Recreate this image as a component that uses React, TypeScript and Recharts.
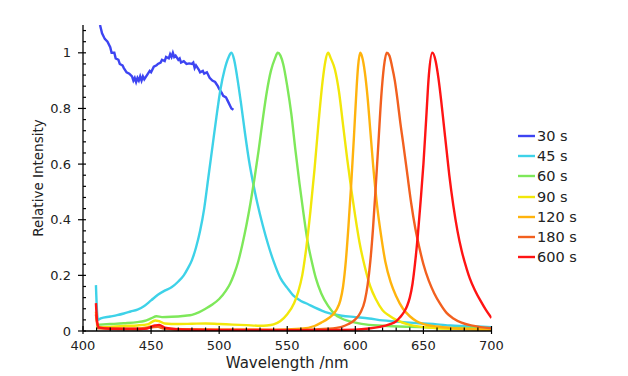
import { Label, Line, LineChart, XAxis, YAxis } from "recharts";

const FONT = "'DejaVu Sans', sans-serif";
const INK = "#222";

// [wavelength nm, relative intensity]
const S30: [number, number][] = [
  [412.5, 1.1], [414, 1.07], [416, 1.05], [418, 1.04], [420, 1.02], [421, 1.0],
  [423, 1.0], [424, 0.98], [426, 0.975], [427, 0.96], [429, 0.955], [430, 0.945],
  [432, 0.93], [434, 0.925], [436, 0.915], [437, 0.9], [438, 0.91], [439, 0.895],
  [440, 0.91], [441, 0.9], [442, 0.915], [443, 0.9], [444, 0.915], [445, 0.905],
  [447, 0.92], [449, 0.935], [450, 0.93], [452, 0.95], [454, 0.955], [455, 0.96],
  [457, 0.965], [458, 0.975], [460, 0.97], [461, 0.985], [463, 0.98], [464, 0.995],
  [465, 0.985], [466, 1.0], [467, 0.985], [468, 0.99], [470, 0.975], [471, 0.98],
  [472, 0.965], [474, 0.97], [476, 0.96], [478, 0.962], [480, 0.96], [481, 0.965],
  [482, 0.945], [483, 0.955], [485, 0.94], [486, 0.93], [488, 0.935], [489, 0.925],
  [491, 0.93], [493, 0.91], [495, 0.9], [497, 0.895], [499, 0.88], [500, 0.87],
  [502, 0.855], [503, 0.845], [505, 0.84], [506, 0.83], [507, 0.82], [508, 0.81],
  [509, 0.8], [510.5, 0.795],
];

const S45: [number, number][] = [
  [409.5, 0.165], [410.3, 0.07], [411, 0.04], [413, 0.045], [420, 0.052], [425, 0.057],
  [430, 0.063], [435, 0.07], [440, 0.077], [445, 0.09], [450, 0.11], [455, 0.13],
  [460, 0.145], [465, 0.157], [470, 0.178], [474, 0.2], [477, 0.225], [480, 0.255],
  [483, 0.3], [486, 0.36], [489, 0.44], [492, 0.55], [495, 0.66], [498, 0.77],
  [501, 0.87], [504, 0.94], [507, 0.985], [509, 1.0], [511, 0.975], [513, 0.92],
  [516, 0.82], [519, 0.71], [522, 0.61], [525, 0.53], [528, 0.46], [532, 0.38],
  [536, 0.31], [540, 0.25], [545, 0.19], [550, 0.155], [555, 0.125], [560, 0.108],
  [565, 0.097], [570, 0.085], [580, 0.065], [590, 0.055], [600, 0.05], [610, 0.045],
  [620, 0.038], [630, 0.034], [640, 0.03], [650, 0.027], [660, 0.024], [670, 0.02],
  [680, 0.018], [690, 0.016], [700, 0.014],
];

const S60: [number, number][] = [
  [409.5, 0.022], [420, 0.025], [430, 0.028], [440, 0.032], [445, 0.036], [450, 0.045],
  [454, 0.053], [458, 0.05], [465, 0.051], [475, 0.055], [480, 0.058], [485, 0.067],
  [490, 0.08], [495, 0.095], [500, 0.115], [505, 0.145], [508, 0.17], [511, 0.205],
  [514, 0.25], [517, 0.31], [520, 0.38], [523, 0.46], [526, 0.55], [529, 0.65],
  [532, 0.76], [535, 0.86], [538, 0.935], [541, 0.98], [543, 1.0], [545, 0.99],
  [547, 0.96], [550, 0.88], [553, 0.78], [556, 0.65], [559, 0.53], [562, 0.42],
  [565, 0.32], [568, 0.25], [571, 0.19], [575, 0.135], [580, 0.09], [585, 0.06],
  [590, 0.045], [600, 0.03], [610, 0.022], [620, 0.019], [640, 0.015], [660, 0.012],
  [680, 0.011], [700, 0.01],
];

const S90: [number, number][] = [
  [409.5, 0.012], [420, 0.015], [430, 0.018], [440, 0.02], [448, 0.025], [453, 0.038],
  [456, 0.035], [460, 0.027], [470, 0.025], [480, 0.026], [490, 0.027], [500, 0.025],
  [510, 0.023], [520, 0.021], [530, 0.019], [535, 0.02], [540, 0.024], [545, 0.036],
  [550, 0.06], [555, 0.1], [558, 0.14], [561, 0.2], [564, 0.3], [567, 0.43],
  [570, 0.58], [573, 0.75], [576, 0.9], [578, 0.97], [580, 1.0], [582, 0.98],
  [585, 0.94], [588, 0.86], [591, 0.74], [594, 0.62], [597, 0.51], [600, 0.41],
  [603, 0.32], [607, 0.23], [611, 0.16], [615, 0.115], [620, 0.075], [625, 0.055],
  [630, 0.04], [640, 0.022], [650, 0.014], [660, 0.01], [680, 0.007], [700, 0.005],
];

const S120: [number, number][] = [
  [409.5, 0.07], [411, 0.015], [420, 0.01], [440, 0.008], [453, 0.018], [458, 0.012],
  [470, 0.006], [500, 0.005], [540, 0.004], [560, 0.008], [570, 0.018], [575, 0.03],
  [580, 0.045], [586, 0.075], [589, 0.11], [591, 0.16], [593, 0.25], [595, 0.38],
  [597, 0.53], [599, 0.7], [601, 0.88], [602, 0.95], [603.5, 1.0], [605, 0.985],
  [607, 0.93], [609, 0.84], [611, 0.72], [613, 0.6], [616, 0.45], [619, 0.34],
  [622, 0.25], [626, 0.175], [630, 0.125], [635, 0.08], [640, 0.053], [645, 0.035],
  [650, 0.025], [660, 0.016], [670, 0.011], [680, 0.008], [700, 0.005],
];

const S180: [number, number][] = [
  [409.5, 0.06], [411, 0.01], [440, 0.006], [455, 0.015], [460, 0.008], [500, 0.004],
  [560, 0.004], [580, 0.008], [590, 0.015], [595, 0.025], [600, 0.042], [604, 0.068],
  [607, 0.11], [609, 0.165], [611, 0.25], [613, 0.37], [615, 0.52], [617, 0.68],
  [619, 0.84], [621, 0.95], [623, 1.0], [625, 0.99], [627, 0.95], [629, 0.9],
  [631, 0.83], [633, 0.75], [635, 0.68], [638, 0.57], [641, 0.46], [644, 0.37],
  [647, 0.3], [650, 0.24], [654, 0.18], [658, 0.135], [662, 0.1], [667, 0.065],
  [672, 0.045], [678, 0.03], [685, 0.02], [692, 0.014], [700, 0.01],
];

const S600: [number, number][] = [
  [409.5, 0.1], [410.5, 0.03], [412, 0.012], [420, 0.008], [445, 0.008], [453, 0.02],
  [456, 0.022], [460, 0.012], [470, 0.006], [500, 0.004], [560, 0.003], [600, 0.005],
  [610, 0.009], [618, 0.015], [625, 0.024], [630, 0.035], [633, 0.05], [636, 0.07],
  [638, 0.09], [640, 0.12], [642, 0.17], [644, 0.25], [646, 0.35], [648, 0.47],
  [650, 0.6], [652, 0.76], [654, 0.92], [656.5, 1.0], [659, 0.97], [661, 0.91],
  [663, 0.83], [665, 0.74], [667, 0.65], [669, 0.56], [672, 0.45], [675, 0.36],
  [678, 0.29], [682, 0.22], [684, 0.19], [688, 0.145], [692, 0.108], [696, 0.075],
  [700, 0.047],
];

const SERIES = [
  { name: "30 s", color: "#3d44f2", points: S30, type: "linear" },
  { name: "45 s", color: "#3ed2e8", points: S45, type: "monotone" },
  { name: "60 s", color: "#7ee85a", points: S60, type: "monotone" },
  { name: "90 s", color: "#f2e70a", points: S90, type: "monotone" },
  { name: "120 s", color: "#ffb30d", points: S120, type: "monotone" },
  { name: "180 s", color: "#f2601f", points: S180, type: "monotone" },
  { name: "600 s", color: "#ff1414", points: S600, type: "monotone" },
];

const X_TICKS = [
  400, 410, 420, 430, 440, 450, 460, 470, 480, 490, 500, 510, 520, 530, 540, 550,
  560, 570, 580, 590, 600, 610, 620, 630, 640, 650, 660, 670, 680, 690, 700,
];
const Y_TICKS = [
  0, 0.04, 0.08, 0.12, 0.16, 0.2, 0.24, 0.28, 0.32, 0.36, 0.4, 0.44, 0.48, 0.52,
  0.56, 0.6, 0.64, 0.68, 0.72, 0.76, 0.8, 0.84, 0.88, 0.92, 0.96, 1, 1.04, 1.08,
];
const Y_LABELS = ["0", "0.2", "0.4", "0.6", "0.8", "1"];

function XTick(props: any) {
  const { x, y, payload } = props;
  const major = payload.value % 50 === 0;
  return (
    <g>
      <line x1={x} x2={x} y1={y - (major ? 5 : 3.5)} y2={y + (major ? 3 : 0)} stroke="#000" strokeWidth={1.2} />
      {major && (
        <text x={x} y={y + 19} textAnchor="middle" fontFamily={FONT} fontSize={13} fill={INK}>
          {payload.value}
        </text>
      )}
    </g>
  );
}

function YTick(props: any) {
  const { x, y, index } = props;
  const major = index % 5 === 0;
  return (
    <g>
      <line x1={x - (major ? 5 : 0)} x2={x + 3} y1={y} y2={y} stroke="#000" strokeWidth={1.2} />
      {major && (
        <text x={x - 12} y={y} dy="0.36em" textAnchor="end" fontFamily={FONT} fontSize={13} fill={INK}>
          {Y_LABELS[index / 5]}
        </text>
      )}
    </g>
  );
}

export default function App() {
  return (
    <div style={{ position: "absolute", left: 0, top: 0, width: 628, height: 376, background: "#fff" }}>
      <LineChart width={628} height={376} margin={{ top: 25, right: 136.5, bottom: 15, left: 23 }}>
        <XAxis
          type="number"
          dataKey="w"
          domain={[400, 700]}
          ticks={X_TICKS}
          interval={0}
          tickLine={false}
          tickSize={0}
          tickMargin={0}
          tick={(p: any) => <XTick {...p} />}
          axisLine={{ stroke: "#000", strokeWidth: 1.3 }}
          height={30}
          allowDataOverflow
        >
          <Label
            content={({ viewBox }: any) => (
              <text
                x={viewBox.x + viewBox.width / 2}
                y={viewBox.y + 37}
                textAnchor="middle"
                fontFamily={FONT}
                fontSize={15}
                fill={INK}
              >
                Wavelength /nm
              </text>
            )}
          />
        </XAxis>
        <YAxis
          type="number"
          dataKey="v"
          domain={[0, 1.1]}
          ticks={Y_TICKS}
          interval={0}
          tickLine={false}
          tickSize={0}
          tickMargin={0}
          tick={(p: any) => <YTick {...p} />}
          axisLine={{ stroke: "#000", strokeWidth: 1.3 }}
          width={60}
          allowDataOverflow
        >
          <Label
            content={({ viewBox }: any) => {
              const cx = viewBox.x + 15.5;
              const cy = viewBox.y + viewBox.height / 2;
              return (
                <text
                  x={cx}
                  y={cy}
                  dy="0.35em"
                  transform={`rotate(-90 ${cx} ${cy})`}
                  textAnchor="middle"
                  fontFamily={FONT}
                  fontSize={13.5}
                  fill={INK}
                >
                  Relative Intensity
                </text>
              );
            }}
          />
        </YAxis>
        {SERIES.map((s) => (
          <Line
            key={s.name}
            data={s.points.map(([w, v]) => ({ w, v }))}
            dataKey="v"
            name={s.name}
            type={s.type as any}
            stroke={s.color}
            strokeWidth={2.4}
            dot={false}
            activeDot={false}
            isAnimationActive={false}
          />
        ))}
      </LineChart>
      <div style={{ position: "absolute", left: 517, top: 126, fontFamily: FONT, fontSize: 14.5, color: INK }}>
        {SERIES.map((s) => (
          <div key={s.name} style={{ display: "flex", alignItems: "center", height: 20.2 }}>
            <svg width={19} height={4}>
              <line x1={1} x2={18} y1={2} y2={2} stroke={s.color} strokeWidth={2.4} />
            </svg>
            <span style={{ marginLeft: 1 }}>{s.name}</span>
          </div>
        ))}
      </div>
    </div>
  );
}
